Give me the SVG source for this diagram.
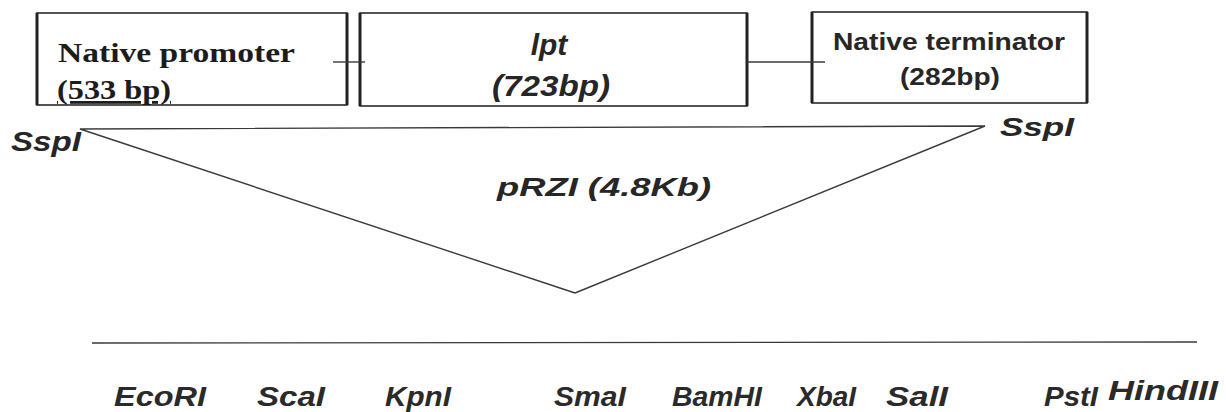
<svg xmlns="http://www.w3.org/2000/svg" width="1226" height="412" viewBox="0 0 1226 412">
  <style>
    .box { fill: none; stroke: #2a2a2a; stroke-width: 1.6; }
    .side { stroke: #222; stroke-width: 3; }
    .wire { fill: none; stroke: #3a3a3a; stroke-width: 1.4; }
    .serif { font-family: "Liberation Serif", "Times New Roman", serif; font-weight: bold; fill: #1c1c1c; }
    .sans { font-family: "Liberation Sans", Arial, sans-serif; font-weight: bold; fill: #262626; }
    .it { font-style: italic; }
    .site { font-family: "Liberation Sans", Arial, sans-serif; font-weight: bold; font-style: italic; font-size: 27px; fill: #2a2a2a; }
  </style>
  <rect width="1226" height="412" fill="#ffffff"/>

  <!-- expression cassette: promoter, ipt gene, terminator -->
  <g id="promoter">
    <rect class="box" x="37" y="13" width="310" height="92"/>
    <line class="side" x1="37" y1="13" x2="37" y2="105"/>
    <line class="side" x1="347" y1="13" x2="347" y2="105"/>
    <text class="serif" x="58" y="62" font-size="28" textLength="237" lengthAdjust="spacingAndGlyphs">Native promoter</text>
    <text class="serif" x="57" y="99" font-size="28" textLength="114" lengthAdjust="spacingAndGlyphs" text-decoration="underline">(533 bp)</text>
  </g>

  <g id="ipt">
    <rect class="box" x="360" y="13" width="387" height="93"/>
    <line class="side" x1="360" y1="13" x2="360" y2="106"/>
    <line class="side" x1="747" y1="13" x2="747" y2="106"/>
    <text class="sans it" x="549" y="55" font-size="30" text-anchor="middle">lpt</text>
    <text class="sans it" x="551" y="96" font-size="29" text-anchor="middle" textLength="118" lengthAdjust="spacingAndGlyphs">(723bp)</text>
  </g>

  <g id="terminator">
    <rect class="box" x="812" y="12" width="275" height="91"/>
    <line class="side" x1="812" y1="12" x2="812" y2="103"/>
    <line class="side" x1="1087" y1="12" x2="1087" y2="103"/>
    <text class="sans" x="949" y="50" font-size="24" text-anchor="middle" textLength="232" lengthAdjust="spacingAndGlyphs">Native terminator</text>
    <text class="sans" x="950" y="85" font-size="24" text-anchor="middle" textLength="100" lengthAdjust="spacingAndGlyphs">(282bp)</text>
  </g>

  <!-- vector and insertion sites -->
  <g id="vector">
    <text class="sans it" x="11" y="151" font-size="27" textLength="70" lengthAdjust="spacingAndGlyphs">SspI</text>
    <text class="sans it" x="1000" y="136" font-size="26" textLength="74" lengthAdjust="spacingAndGlyphs" fill="#555">SspI</text>
    <text class="sans it" x="497" y="196" font-size="26" textLength="214" lengthAdjust="spacingAndGlyphs">pRZI (4.8Kb)</text>
  </g>

  <!-- multiple cloning site -->
  <g id="mcs">
    <text class="site" x="114" y="406" textLength="92" lengthAdjust="spacingAndGlyphs">EcoRI</text>
    <text class="site" x="257" y="406" textLength="68" lengthAdjust="spacingAndGlyphs">ScaI</text>
    <text class="site" x="385" y="406" textLength="66" lengthAdjust="spacingAndGlyphs">KpnI</text>
    <text class="site" x="554" y="406" textLength="72" lengthAdjust="spacingAndGlyphs">SmaI</text>
    <text class="site" x="672" y="406" textLength="90" lengthAdjust="spacingAndGlyphs">BamHI</text>
    <text class="site" x="797" y="406" textLength="59" lengthAdjust="spacingAndGlyphs">XbaI</text>
    <text class="site" x="886" y="406" textLength="62" lengthAdjust="spacingAndGlyphs">SalI</text>
    <text class="site" x="1044" y="406" textLength="54" lengthAdjust="spacingAndGlyphs" fill="#444">PstI</text>
    <text class="site" x="1108" y="400" textLength="110" lengthAdjust="spacingAndGlyphs" fill="#555">HindIII</text>
  </g>

  <g id="connectors">
    <line class="wire" x1="333" y1="62" x2="365" y2="62"/>
    <line class="wire" x1="747" y1="62" x2="825" y2="62"/>
    <polyline class="wire" points="575,293 80,129 985,126 575,293"/>
    <line class="wire" x1="92" y1="343" x2="1197" y2="342"/>
  </g>
</svg>
